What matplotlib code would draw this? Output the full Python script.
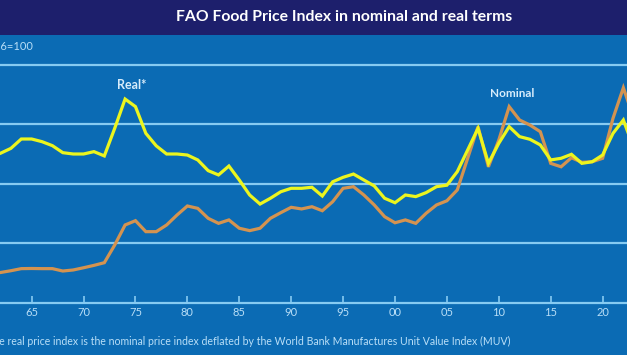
import matplotlib
import matplotlib.pyplot as plt
from matplotlib.patches import Rectangle
from matplotlib.ticker import FixedLocator, FuncFormatter

matplotlib.use('Agg')

# Annual FAO Food Price Index, 2014-2016=100
years = list(range(1961, 2024))
real = [
    98.0, 100.5, 103.8, 110.1, 110.1, 108.3, 105.6, 100.9, 100.0, 100.0,
    101.6, 98.7, 117.3, 137.0, 131.9, 113.9, 105.5, 100.0, 100.0, 99.3,
    96.0, 88.8, 85.9, 91.9, 82.5, 72.4, 66.3, 70.2, 74.6, 76.9,
    76.9, 77.6, 71.7, 81.3, 84.3, 86.5, 82.5, 78.5, 70.2, 67.2,
    72.4, 71.3, 74.0, 78.0, 79.0, 88.1, 102.7, 117.3, 93.7, 107.2,
    118.4, 111.7, 109.9, 106.1, 96.0, 97.1, 99.8, 93.7, 94.8, 99.3,
    113.9, 122.9, 104.0,
]
nominal = [
    19.8, 20.2, 21.4, 22.8, 22.9, 22.8, 22.8, 21.2, 21.9, 23.4,
    25.0, 26.8, 38.7, 52.2, 55.1, 47.7, 47.7, 52.2, 58.9, 65.0,
    63.4, 56.7, 53.3, 55.6, 50.0, 48.4, 50.0, 56.7, 60.5, 64.1,
    63.0, 64.5, 61.8, 67.9, 76.9, 78.0, 72.4, 65.7, 57.8, 53.7,
    55.6, 53.3, 60.1, 65.7, 68.5, 75.8, 97.1, 118.4, 91.4, 109.4,
    131.9, 122.9, 119.5, 115.0, 93.7, 91.4, 97.5, 94.4, 94.8, 97.1,
    124.0, 144.6, 124.0,
]
tick_years = list(range(1965, 2021, 5))
grid_values = [40, 80, 120, 160]

title = "FAO Food Price Index in nominal and real terms"
base_note = "2014-2016=100"
footnote = ("* The real price index is the nominal price index deflated by "
            "the World Bank Manufactures Unit Value Index (MUV)")

BG = '#0b6bb4'
NAVY = '#1d1f6c'
GRID = '#86cbf2'
TXT = '#b8def7'
YELLOW = '#ecf51e'
ORANGE = '#d49350'
FONT = 'Lato'

W, H = 627, 355

fig = plt.figure(figsize=(W / 100, H / 100), dpi=100, facecolor=BG)

# title bar
fig.add_artist(Rectangle((0, 1 - 35 / H), 1, 35 / H, transform=fig.transFigure,
                         facecolor=NAVY, edgecolor='none', zorder=0))
fig.text(344 / W, 1 - 17 / H, title, ha='center', va='center', color='white',
         fontsize=11.3, fontweight='bold', family=FONT)

ax = fig.add_axes([0, (H - 302.5) / H, 1, (302.5 - 35) / H])
ax.set_facecolor(BG)
ax.set_xlim(1961.95, 2022.35)
ax.set_ylim(0, (302.5 - 35) / 1.485)

for v in grid_values:
    ax.axhline(v, color=GRID, lw=1.6, zorder=1)

ax.plot(years, nominal, color=ORANGE, lw=2.3, zorder=3, solid_joinstyle='miter')
ax.plot(years, real, color=YELLOW, lw=2.3, zorder=4, solid_joinstyle='miter')

ax.text(1974.66, 146.5, "Real*", ha='center', va='center', color='#d7ecfb',
        fontsize=9, fontweight='bold', family=FONT)
ax.text(2011.3, 141, "Nominal", ha='center', va='center', color='#d7ecfb',
        fontsize=8.5, fontweight='bold', family=FONT)

for side in ['top', 'left', 'right']:
    ax.spines[side].set_visible(False)
ax.spines['bottom'].set_color(GRID)
ax.spines['bottom'].set_linewidth(1.6)
ax.yaxis.set_visible(False)
ax.xaxis.set_major_locator(FixedLocator(tick_years))
ax.xaxis.set_major_formatter(FuncFormatter(lambda x, pos: f"{int(x) % 100:02d}"))
ax.tick_params(axis='x', direction='in', length=5, width=1.2, color=GRID,
               labelcolor=TXT, labelsize=8, pad=3.5)
for lbl in ax.get_xticklabels():
    lbl.set_family(FONT)

# both notes run off the left edge, as in the cropped original
fig.text(33 / W, 1 - 46 / H, base_note, ha='right', va='center', color=TXT,
         fontsize=8, family=FONT)
fig.text(510 / W, 1 - 341 / H, footnote, ha='right', va='center', color=TXT,
         fontsize=7.6, family=FONT)

fig.savefig("out.png", dpi=100, facecolor=BG)
